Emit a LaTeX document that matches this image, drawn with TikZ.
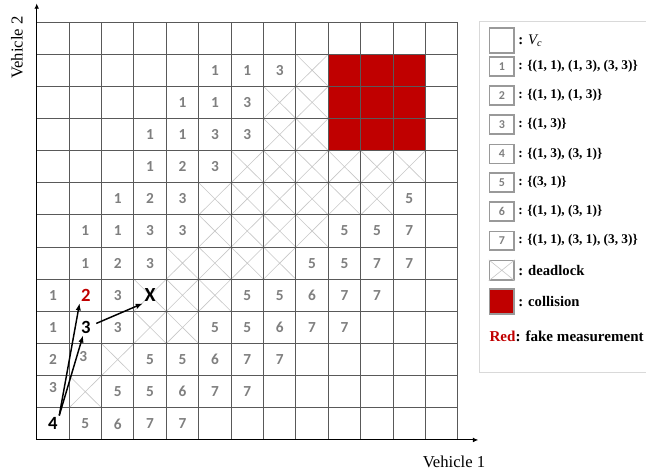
\documentclass[tikz,border=0pt]{standalone}
\usepackage{fontspec}
\setmainfont{Liberation Serif}
\newfontfamily\digitfont{Carlito}
\usetikzlibrary{arrows.meta}
\definecolor{collred}{HTML}{C00000}
\definecolor{numgray}{HTML}{7F7F7F}
\begin{document}
\begin{tikzpicture}[
  x=24.3pt,y=24.11pt,
  gridline/.style={line width=0.7pt,draw=black!65},
  crossline/.style={line width=0.45pt,draw=black!22},
  axisline/.style={line width=0.7pt,-{Latex[length=4pt,width=3.5pt]}},
  num/.style={font=\digitfont\bfseries\fontsize{11.5}{12}\selectfont,text=numgray,inner sep=0pt},
  hot/.style={font=\digitfont\bfseries\fontsize{14}{14}\selectfont,inner sep=1pt},
  jump/.style={line width=1.1pt,-{Latex[length=5.5pt,width=4pt]}},
  keybox/.style={draw=black!40,line width=1.2pt,minimum width=18.4pt,minimum height=14.2pt,inner sep=0pt},
  keytext/.style={anchor=west,inner sep=0pt,font=\bfseries\fontsize{10}{12}\selectfont}]
  \useasboundingbox (-1.133,-1.058) rectangle (18.806,13.686);
  \fill[collred] (9,9) rectangle (12,12);
  \foreach \c/\r in {9/12,8/11,9/11,8/10,9/10,7/9,8/9,9/9,10/9,11/9,12/9,
    6/8,7/8,8/8,9/8,10/8,11/8,6/7,7/7,8/7,9/7,5/6,6/6,7/6,8/6,
    4/5,5/5,6/5,4/4,5/4,3/3,2/2}
    \draw[crossline] ({\c-1},{\r-1}) -- (\c,\r) ({\c-1},\r) -- (\c,{\r-1});
  \foreach \i in {1,...,13} {
    \draw[gridline] (\i,0) -- (\i,13);
    \draw[gridline] (0,\i) -- (13,\i);
  }
  \coordinate (O) at (0,0);
  \coordinate (xend) at (13.63,0);
  \coordinate (yend) at (0,13.58);
  \draw[axisline] (O) -- (xend);
  \draw[axisline] (O) -- (yend);
  \node[font=\fontsize{12.5}{14}\selectfont] (xlabel) at (12.88,-0.675) {Vehicle 1};
  \node[font=\fontsize{12.5}{14}\selectfont,rotate=90] (ylabel) at (-0.61,12.21) {Vehicle 2};
  \foreach \c/\r/\v in {6/12/1,7/12/1,8/12/3,5/11/1,6/11/1,7/11/3,
    4/10/1,5/10/1,6/10/3,7/10/3,4/9/1,5/9/2,6/9/3,3/8/1,4/8/2,5/8/3,12/8/5,
    2/7/1,3/7/1,4/7/3,5/7/3,10/7/5,11/7/5,12/7/7,
    2/6/1,3/6/2,4/6/3,9/6/5,10/6/5,11/6/7,12/6/7,
    1/5/1,3/5/3,7/5/5,8/5/5,9/5/6,10/5/7,11/5/7,
    1/4/1,3/4/3,6/4/5,7/4/5,8/4/6,9/4/7,10/4/7,
    1/3/2,4/3/5,5/3/5,6/3/6,7/3/7,8/3/7,
    3/2/5,4/2/5,5/2/6,6/2/7,7/2/7,2/1/5,3/1/6,4/1/7,5/1/7}
    \node[num] (n-\c-\r) at ({\c-0.5},{\r-0.5}) {\v};
  \node[num] (n-2-3) at ([shift={(-1.5pt,2.2pt)}]1.5,2.5) {3};
  \node[num] (n-1-2) at ([yshift=3.5pt]0.5,1.5) {3};
  \node[hot,text=collred] (fake) at (1.52,4.5) {2};
  \node[hot] (three) at (1.52,3.5) {3};
  \node[hot,font=\digitfont\bfseries\fontsize{15}{15}\selectfont] (xmark) at (3.5,4.5) {X};
  \node[hot] (four) at (0.5,0.52) {4};
  \draw[jump] (four.north east) -- (fake.south west);
  \draw[jump] (four.north east) -- (three.-110);
  \draw[jump] ([shift={(3pt,3pt)}]three.east) -- (xmark.south west);
  \draw[draw=black!15,line width=0.7pt] (13.673,2.084) rectangle (19,13.011);
  \node[keybox,minimum height=19.1pt] (key-vc) at (14.355,12.426) {};
  \node[keytext,font=\bfseries\fontsize{11}{12}\selectfont] (keyl-vc) at ([xshift=2.5pt]key-vc.east) {: {\mdseries\itshape V\textsubscript{c}}};
  \foreach \v/\yy/\txt in {1/11.624/{\{(1, 1), (1, 3), (3, 3)\}},
    2/10.715/{\{(1, 1), (1, 3)\}},3/9.813/{\{(1, 3)\}},4/8.896/{\{(1, 3), (3, 1)\}},
    5/8.016/{\{(3, 1)\}},6/7.114/{\{(1, 1), (3, 1)\}},7/6.196/{\{(1, 1), (3, 1), (3, 3)\}}} {
    \node[keybox] (key-\v) at (14.355,\yy) {\digitfont\bfseries\fontsize{9}{9}\selectfont\textcolor{numgray}{\v}};
    \node[keytext] (keyl-\v) at ([xshift=2.5pt]key-\v.east) {: \txt};
  }
  \node[keybox,minimum height=14.6pt] (key-dead) at (14.355,5.277) {};
  \draw[crossline] (key-dead.north west) -- (key-dead.south east) (key-dead.south west) -- (key-dead.north east);
  \node[keytext,font=\bfseries\fontsize{11}{12}\selectfont] (keyl-dead) at ([xshift=2.5pt]key-dead.east) {: deadlock};
  \node[keybox,fill=collred,minimum height=18.75pt] (key-coll) at (14.355,4.308) {};
  \node[keytext,font=\bfseries\fontsize{11}{12}\selectfont] (keyl-coll) at ([xshift=2.5pt]key-coll.east) {: collision};
  \node[keytext,font=\bfseries\fontsize{11.3}{12}\selectfont] (keyl-red) at (13.97,3.213) {\textcolor{collred}{Red}: fake measurement};
\end{tikzpicture}
\end{document}
